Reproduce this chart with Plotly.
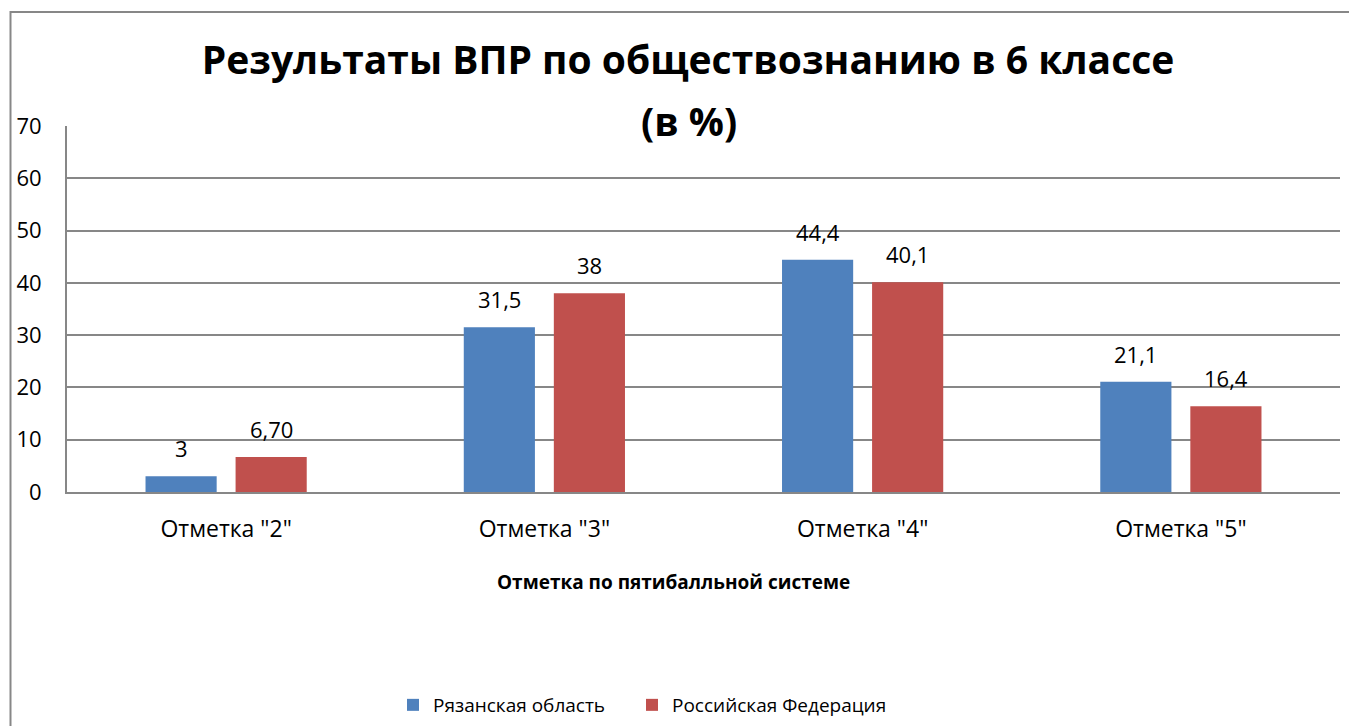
import plotly.graph_objects as go

# Data
categories = ['Отметка "2"', 'Отметка "3"', 'Отметка "4"', 'Отметка "5"']
ryazan = [3, 31.5, 44.4, 21.1]
ryazan_labels = ["3", "31,5", "44,4", "21,1"]
russia = [6.7, 38, 40.1, 16.4]
russia_labels = ["6,70", "38", "40,1", "16,4"]

FONT = "Open Sans"
W, H = 1357, 726
OFF = 8  # page body margin in the browser
L, T = 67 - OFF, 126 - OFF
R, B = W - (1340 - OFF), H - (492 - OFF)
pw, ph = W - L - R, H - T - B
GRAY = "#878787"


def px_x(x):
    return (x - OFF - L) / pw


def px_y(y):
    return (H - B - (y - OFF)) / ph


fig = go.Figure()
fig.add_trace(go.Bar(x=categories, y=ryazan, name="Рязанская область", legend="legend",
                     marker=dict(color="#4F81BD", line=dict(width=0))))
fig.add_trace(go.Bar(x=categories, y=russia, name="Российская Федерация", legend="legend2",
                     marker=dict(color="#C0504D", line=dict(width=0))))

# data labels above each bar
for vals, labels, shift in [(ryazan, ryazan_labels, -45), (russia, russia_labels, 45)]:
    for c, v, t in zip(categories, vals, labels):
        fig.add_annotation(x=c, y=v, text=t, showarrow=False, xshift=shift, yshift=28,
                           yanchor="middle", font=dict(size=22, color="black"))

# second title line
fig.add_annotation(xref="paper", yref="paper", x=px_x(689), y=px_y(120),
                   text="<b>(в %)</b>", showarrow=False, yanchor="middle",
                   font=dict(size=39, color="black"))

# x axis title
fig.add_annotation(xref="paper", yref="paper", x=px_x(673), y=px_y(582),
                   text="<b>Отметка по пятибалльной системе</b>", showarrow=False,
                   yanchor="middle", font=dict(size=19, color="black"))

# outer chart frame (extends past right and bottom edges)
fig.add_shape(type="path", xref="paper", yref="paper",
              path=f"M {px_x(10.5)} -1 L {px_x(10.5)} {px_y(12)} L 1.2 {px_y(12)}",
              line=dict(color=GRAY, width=2))

legend_style = dict(orientation="h", xref="container", yref="container",
                    xanchor="left", y=1 - (705 - OFF) / H, yanchor="middle",
                    font=dict(size=19), bgcolor="rgba(0,0,0,0)")

fig.update_layout(
    width=W, height=H,
    margin=dict(l=L, r=R, t=T, b=B, autoexpand=False),
    paper_bgcolor="white", plot_bgcolor="white",
    font=dict(family=FONT, size=21, color="#000000"),
    title=dict(
        text="<b>Результаты ВПР по обществознанию в 6 классе</b>",
        font=dict(size=39, family=FONT),
        x=(688 - OFF) / W, xanchor="center", y=1 - 52 / H, yanchor="middle",
    ),
    barmode="group", bargap=0.434, bargroupgap=0.21,
    showlegend=True,
    legend=dict(legend_style, x=(408 - OFF - 15) / W),
    legend2=dict(legend_style, x=(647 - OFF - 15) / W),
    xaxis=dict(
        showline=True, linecolor=GRAY, linewidth=2, ticks="",
        tickfont=dict(size=23), ticklabelstandoff=15, automargin=False,
    ),
    yaxis=dict(
        range=[0, 70], dtick=10, showgrid=True, gridcolor=GRAY, gridwidth=1.5,
        showline=True, linecolor=GRAY, linewidth=2, ticks="",
        tickfont=dict(size=22), ticklabelstandoff=19, zeroline=False, automargin=False,
    ),
)

fig.write_html("out.html")
